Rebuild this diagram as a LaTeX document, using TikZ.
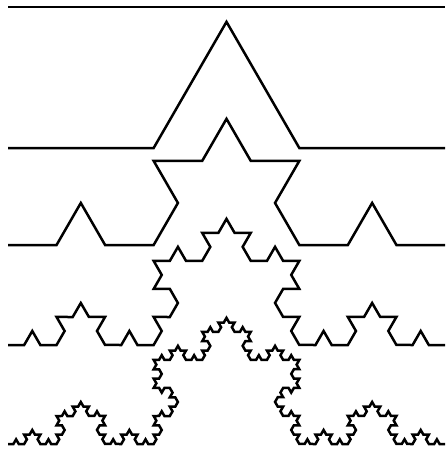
\documentclass[tikz,border=0pt]{standalone}
\usetikzlibrary{decorations.fractals}

\begin{document}
\begin{tikzpicture}[x=1pt,y=-1pt,
    koch/.style={line width=2.5pt,decoration=Koch snowflake}]
        \useasboundingbox (0,0) rectangle (446,450);
        % stage 0 to 4, left and right end of each curve
        \coordinate (s0l) at (8,7);   \coordinate (s0r) at (445,7);
        \coordinate (s1l) at (8,148); \coordinate (s1r) at (445,148);
        \coordinate (s2l) at (8,245); \coordinate (s2r) at (445,245);
        \coordinate (s3l) at (8,345); \coordinate (s3r) at (445,345);
        \coordinate (s4l) at (8,444); \coordinate (s4r) at (445,444);
        \draw[koch] (s0l) -- (s0r);
        \draw[koch] decorate{(s1l) -- (s1r)};
        \draw[koch] decorate{decorate{(s2l) -- (s2r)}};
        \draw[koch] decorate{decorate{decorate{(s3l) -- (s3r)}}};
        \draw[koch] decorate{decorate{decorate{decorate{(s4l) -- (s4r)}}}};
      \end{tikzpicture}
\end{document}
